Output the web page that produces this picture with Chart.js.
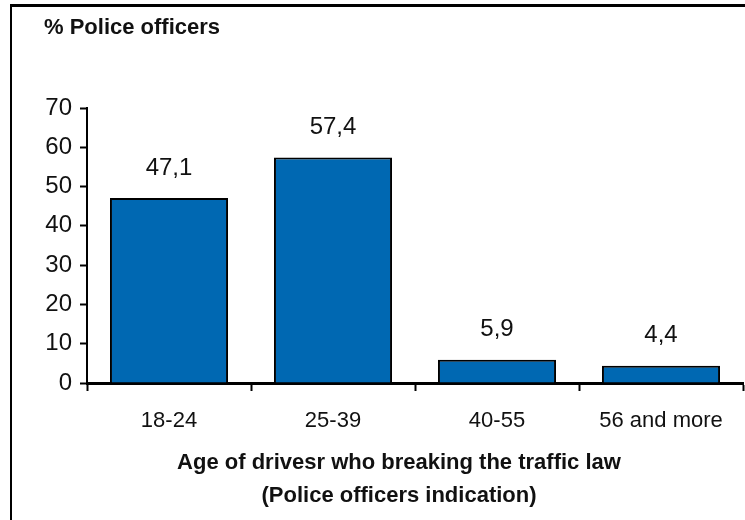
<!DOCTYPE html>
<html>
<head>
<meta charset="utf-8">
<script src="https://cdn.jsdelivr.net/npm/chart.js@4/dist/chart.umd.min.js"></script>
<style>
  html, body { margin: 0; padding: 0; background: #fff; }
  #wrap { width: 745px; height: 520px; position: relative; }
</style>
</head>
<body>
<div id="wrap"><canvas id="chart" width="745" height="520"></canvas></div>
<script>
// data
const ageGroups = ['18-24', '25-39', '40-55', '56 and more'];
const officerShares = [47.1, 57.4, 5.9, 4.4];
const yTicks = [0, 10, 20, 30, 40, 50, 60, 70];

const FONT = '"Liberation Sans", Arial, Helvetica, sans-serif';

// frame, title, axis caption and value labels
const decorations = {
  id: 'decorations',
  afterDraw(chart) {
    const ctx = chart.ctx;
    ctx.save();
    // frame (cut off at right and bottom)
    ctx.strokeStyle = '#000';
    ctx.lineWidth = 3;
    ctx.beginPath();
    ctx.moveTo(10, 5.5);
    ctx.lineTo(745, 5.5);
    ctx.stroke();
    ctx.lineWidth = 2;
    ctx.beginPath();
    ctx.moveTo(11, 5);
    ctx.lineTo(11, 520);
    ctx.stroke();

    ctx.fillStyle = '#111';
    ctx.font = 'bold 22px ' + FONT;
    ctx.textAlign = 'left';
    ctx.textBaseline = 'middle';
    ctx.fillText('% Police officers', 44, 28);

    ctx.textAlign = 'center';
    ctx.fillText('Age of drivesr who breaking the traffic law', 399, 463);
    ctx.fillText('(Police officers indication)', 399, 496);

    // value labels above bars
    ctx.font = '24px ' + FONT;
    const meta = chart.getDatasetMeta(0);
    meta.data.forEach((bar, i) => {
      const txt = String(officerShares[i]).replace('.', ',');
      ctx.fillText(txt, bar.x, bar.y - 30);
    });
    ctx.restore();
  }
};

new Chart(document.getElementById('chart'), {
  type: 'bar',
  data: {
    labels: ageGroups,
    datasets: [{
      data: officerShares,
      backgroundColor: '#0068b2',
      borderColor: '#000',
      borderWidth: 2,
      barPercentage: 0.72,
      categoryPercentage: 1.0
    }]
  },
  options: {
    responsive: false,
    animation: false,
    layout: { padding: { top: 108, right: 2, left: 0, bottom: 0 } },
    plugins: {
      legend: { display: false },
      tooltip: { enabled: false }
    },
    scales: {
      x: {
        offset: true,
        afterFit: (s) => { s.height = 137; },
        border: { color: '#000', width: 3 },
        grid: {
          offset: true,
          drawOnChartArea: false,
          drawTicks: true,
          tickLength: 8,
          tickColor: '#000',
          tickWidth: 2
        },
        ticks: {
          color: '#111',
          padding: 17,
          font: { family: FONT, size: 22 }
        }
      },
      y: {
        min: 0,
        max: 70,
        afterFit: (s) => { s.width = 87; },
        afterBuildTicks: (s) => { s.ticks = yTicks.map(v => ({ value: v })); },
        border: { color: '#000', width: 2 },
        grid: {
          drawOnChartArea: false,
          drawTicks: true,
          tickLength: 7,
          tickColor: '#000',
          tickWidth: 2
        },
        ticks: {
          color: '#111',
          padding: 8,
          font: { family: FONT, size: 24 }
        }
      }
    }
  },
  plugins: [decorations]
});
</script>
</body>
</html>
